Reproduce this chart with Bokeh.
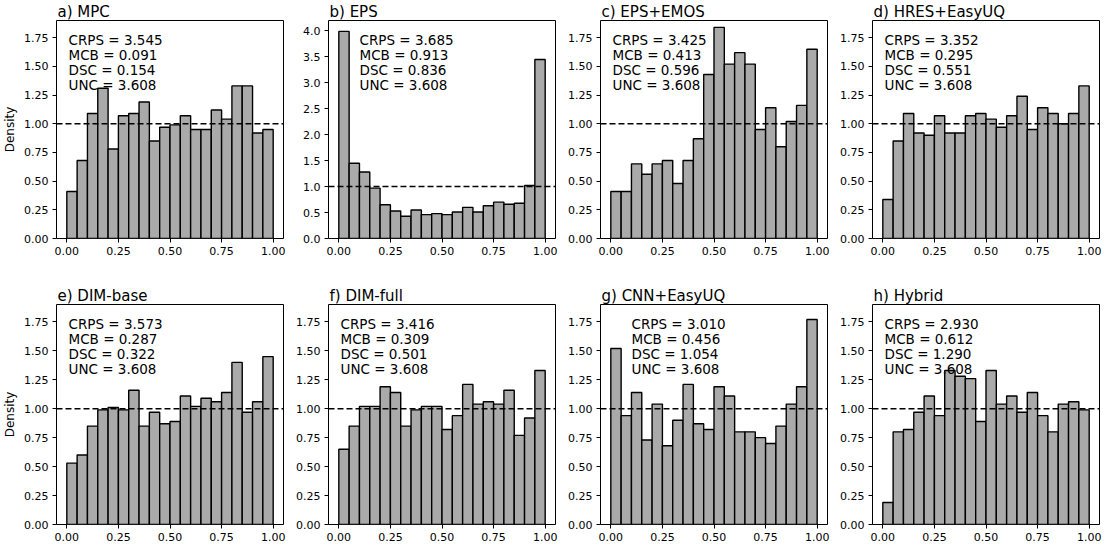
import numpy as np
from bokeh.plotting import figure
from bokeh.layouts import gridplot
from bokeh.models import Range1d, FixedTicker, NumeralTickFormatter, Span, Label
from bokeh.embed import file_html
from bokeh.resources import INLINE

# 20 PIT-histogram bins on [0, 1]
bin_edges = np.linspace(0.0, 1.0, 21)

titles = ["a) MPC", "b) EPS", "c) EPS+EMOS", "d) HRES+EasyUQ",
          "e) DIM-base", "f) DIM-full", "g) CNN+EasyUQ", "h) Hybrid"]

mpc = [0.41, 0.68, 1.09, 1.31, 0.78, 1.07, 1.09, 1.19, 0.85, 0.97,
       0.99, 1.07, 0.95, 0.95, 1.12, 1.04, 1.33, 1.33, 0.92, 0.95]
eps = [3.99, 1.45, 1.28, 0.97, 0.65, 0.53, 0.43, 0.55, 0.46, 0.48,
       0.46, 0.51, 0.60, 0.51, 0.63, 0.70, 0.66, 0.68, 1.02, 3.45]
eps_emos = [0.41, 0.41, 0.65, 0.56, 0.65, 0.68, 0.48, 0.68, 0.87, 1.43,
            1.84, 1.52, 1.62, 1.52, 0.95, 1.14, 0.80, 1.02, 1.16, 1.65]
hres_easyuq = [0.34, 0.85, 1.09, 0.92, 0.90, 1.07, 0.92, 0.92, 1.07, 1.09,
               1.04, 0.97, 1.07, 1.24, 0.95, 1.14, 1.09, 1.00, 1.09, 1.33]
dim_base = [0.53, 0.60, 0.85, 0.99, 1.01, 0.99, 1.16, 0.85, 0.97, 0.87,
            0.89, 1.11, 1.02, 1.09, 1.06, 1.14, 1.40, 0.97, 1.06, 1.45]
dim_full = [0.65, 0.85, 1.02, 1.02, 1.19, 1.14, 0.85, 0.99, 1.02, 1.02,
            0.82, 0.94, 1.21, 1.04, 1.06, 1.04, 1.16, 0.77, 0.92, 1.33]
cnn_easyuq = [1.52, 0.94, 1.14, 0.73, 1.04, 0.68, 0.90, 1.21, 0.87, 0.82,
              1.19, 1.11, 0.80, 0.80, 0.75, 0.70, 0.85, 1.04, 1.19, 1.77]
hybrid = [0.19, 0.80, 0.82, 0.97, 1.11, 0.94, 1.33, 1.28, 1.26, 0.89,
          1.33, 1.04, 1.11, 0.97, 1.14, 0.94, 0.80, 1.04, 1.06, 0.99]

series = [mpc, eps, eps_emos, hres_easyuq, dim_base, dim_full, cnn_easyuq, hybrid]

crps = [3.545, 3.685, 3.425, 3.352, 3.573, 3.416, 3.010, 2.930]
mcb = [0.091, 0.913, 0.413, 0.295, 0.287, 0.309, 0.456, 0.612]
dsc = [0.154, 0.836, 0.596, 0.551, 0.322, 0.501, 1.054, 1.290]
unc = [3.608, 3.608, 3.608, 3.608, 3.608, 3.608, 3.608, 3.608]

x_ticks = [0.0, 0.25, 0.5, 0.75, 1.0]
y_ticks = [0.0, 0.25, 0.5, 0.75, 1.0, 1.25, 1.5, 1.75]
y_ticks_eps = [0.0, 0.5, 1.0, 1.5, 2.0, 2.5, 3.0, 3.5, 4.0]

FONT = "DejaVu Sans"
figs = []
for i, vals in enumerate(series):
    row, col = divmod(i, 4)
    fh = 218 if row == 0 else 220
    left = 52 if col == 0 else 34
    bottom = 46 if row == 0 else 21
    is_eps = (i == 1)
    ymax = 4.2 if is_eps else 1.9
    p = figure(frame_width=227, frame_height=fh,
               min_border_left=left, min_border_right=10,
               min_border_top=10, min_border_bottom=bottom,
               x_range=Range1d(-0.05, 1.05), y_range=Range1d(0, ymax),
               output_backend="svg", toolbar_location=None, tools="",
               title=titles[i])
    p.title.text_font = FONT
    p.title.text_font_size = "15px"
    p.title.text_font_style = "normal"
    p.title.text_color = "black"
    p.title.align = "left"
    p.title.offset = 1
    p.title.standoff = 0
    p.quad(left=bin_edges[:-1], right=bin_edges[1:], bottom=0, top=vals,
           fill_color="#aaaaaa", line_color="black", line_width=1.4)
    p.add_layout(Span(location=1.0, dimension="width", line_color="black",
                      line_width=1.5, line_dash="6 3"))
    p.xgrid.visible = False
    p.ygrid.visible = False
    p.outline_line_color = "black"
    p.outline_line_width = 1
    p.background_fill_color = "white"
    p.border_fill_color = "white"
    p.xaxis.ticker = FixedTicker(ticks=x_ticks)
    p.xaxis.formatter = NumeralTickFormatter(format="0.00")
    p.yaxis.ticker = FixedTicker(ticks=y_ticks_eps if is_eps else y_ticks)
    p.yaxis.formatter = NumeralTickFormatter(format="0.0" if is_eps else "0.00")
    for ax in (p.xaxis, p.yaxis):
        ax.axis_line_color = None
        ax.major_tick_out = 4
        ax.major_tick_in = 0
        ax.minor_tick_line_color = None
        ax.major_tick_line_color = "black"
        ax.major_label_standoff = 4
        ax.major_label_text_font = FONT
        ax.major_label_text_font_size = "11px"
        ax.major_label_text_color = "black"
    if col == 0:
        p.yaxis.axis_label = "Density"
        p.yaxis.axis_label_text_font = FONT
        p.yaxis.axis_label_text_font_size = "12px"
        p.yaxis.axis_label_text_font_style = "normal"
        p.yaxis.axis_label_text_color = "black"
        p.yaxis.axis_label_standoff = 4
    # score annotations
    xoff = 31 if i in (1, 6) else 12
    lines = ["CRPS = %.3f" % crps[i], "MCB = %.3f" % mcb[i],
             "DSC = %.3f" % dsc[i], "UNC = %.3f" % unc[i]]
    for k, t in enumerate(lines):
        p.add_layout(Label(x=xoff, y=fh - 19 - 15 * k, x_units="screen",
                           y_units="screen", text=t, text_font=FONT,
                           text_font_size="13.5px", text_color="black",
                           text_baseline="alphabetic"))
    figs.append(p)

grid = gridplot(figs, ncols=4, toolbar_location=None)
open("out.html", "w").write(file_html(grid, INLINE))
